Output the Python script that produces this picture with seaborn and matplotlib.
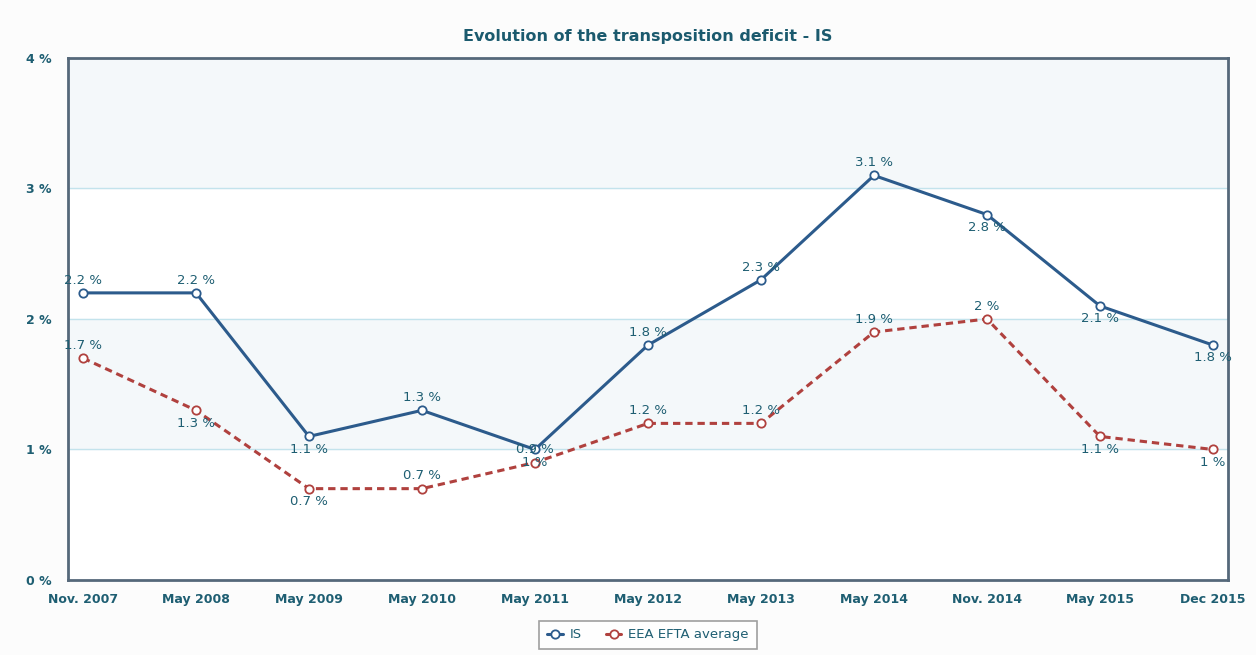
import matplotlib
matplotlib.use("Agg")
import matplotlib.pyplot as plt
import seaborn as sns
import pandas as pd

# values
periods = ["Nov. 2007", "May 2008", "May 2009", "May 2010", "May 2011", "May 2012",
           "May 2013", "May 2014", "Nov. 2014", "May 2015", "Dec 2015"]
is_vals = [2.2, 2.2, 1.1, 1.3, 1.0, 1.8, 2.3, 3.1, 2.8, 2.1, 1.8]
eea_vals = [1.7, 1.3, 0.7, 0.7, 0.9, 1.2, 1.2, 1.9, 2.0, 1.1, 1.0]
is_labels = ["2.2 %", "2.2 %", "1.1 %", "1.3 %", "1 %", "1.8 %", "2.3 %", "3.1 %", "2.8 %", "2.1 %", "1.8 %"]
eea_labels = ["1.7 %", "1.3 %", "0.7 %", "0.7 %", "0.9 %", "1.2 %", "1.2 %", "1.9 %", "2 %", "1.1 %", "1 %"]
# label above (+1) or below (-1) the point
is_side = [1, 1, -1, 1, -1, 1, 1, 1, -1, -1, -1]
eea_side = [1, -1, -1, 1, 1, 1, 1, 1, 1, -1, -1]
y_ticks = [0, 1, 2, 3, 4]

IS_COL = "#2c5b8c"
EEA_COL = "#b0413e"
TXT = "#1e5e72"

sns.set_style("white")
plt.rcParams['font.family'] = ['DejaVu Sans']

df = pd.DataFrame({"idx": list(range(len(periods))) * 2,
                   "value": is_vals + eea_vals,
                   "series": ["IS"] * len(periods) + ["EEA EFTA average"] * len(periods)})

fig = plt.figure(figsize=(12.56, 6.55), dpi=100, facecolor="#fcfcfc")
ax = fig.add_axes([0.0541, 0.1145, 0.9236, 0.797])
ax.set_facecolor("white")

# alternating bands
for lo in [1, 3]:
    ax.axhspan(lo, lo + 1, color="#f4f8fa", zorder=0)
for y in [1, 2, 3]:
    ax.axhline(y, color="#c3e3ec", lw=1, zorder=1)

sns.lineplot(data=df[df.series == "IS"], x="idx", y="value", ax=ax, color=IS_COL, lw=2.2,
             marker="o", markersize=6, markerfacecolor="white", markeredgecolor=IS_COL,
             markeredgewidth=1.3, label="IS", zorder=3)
sns.lineplot(data=df[df.series == "EEA EFTA average"], x="idx", y="value", ax=ax, color=EEA_COL,
             lw=2.2, linestyle=(0, (2.4, 1.6)), marker="o", markersize=6, markerfacecolor="white",
             markeredgecolor=EEA_COL, markeredgewidth=1.3, label="EEA EFTA average", zorder=3)

for vals, labs, side in [(is_vals, is_labels, is_side), (eea_vals, eea_labels, eea_side)]:
    for i, (v, t, s) in enumerate(zip(vals, labs, side)):
        off = 4.5 if s > 0 else -4.5
        ax.annotate(t, (i, v), xytext=(0, off), textcoords="offset points",
                    ha="center", va="bottom" if s > 0 else "top",
                    fontsize=9.5, color=TXT, zorder=4)

ax.set_xlim(-0.133, len(periods) - 1 + 0.133)
ax.set_ylim(0, 4)
ax.set_xticks(range(len(periods)))
ax.set_xticklabels(periods, fontsize=9, color=TXT, fontweight="bold")
ax.set_yticks(y_ticks)
ax.set_yticklabels([f"{t} %" for t in y_ticks], fontsize=9, color=TXT, fontweight="bold")
ax.tick_params(axis="y", length=0, pad=12)
ax.tick_params(axis="x", length=0, pad=9)
ax.set_xlabel("")
ax.set_ylabel("")
for sp in ax.spines.values():
    sp.set_color("#55687a")
    sp.set_linewidth(2)

ax.set_title("Evolution of the transposition deficit - IS", fontsize=11.5, fontweight="bold",
             color="#1b5a6e", pad=12)

leg = ax.legend(loc="upper center", bbox_to_anchor=(0.5, -0.065), ncol=2, frameon=True,
                fontsize=9.5, handlelength=1.2, handletextpad=0.5, columnspacing=1.8,
                fancybox=False, borderpad=0.6)
leg.get_frame().set_edgecolor("#888888")
leg.get_frame().set_linewidth(1.2)
for line in leg.get_lines():
    line.set_linestyle("-")
for txt in leg.get_texts():
    txt.set_color(TXT)

fig.savefig("out.png", dpi=100, facecolor=fig.get_facecolor())
